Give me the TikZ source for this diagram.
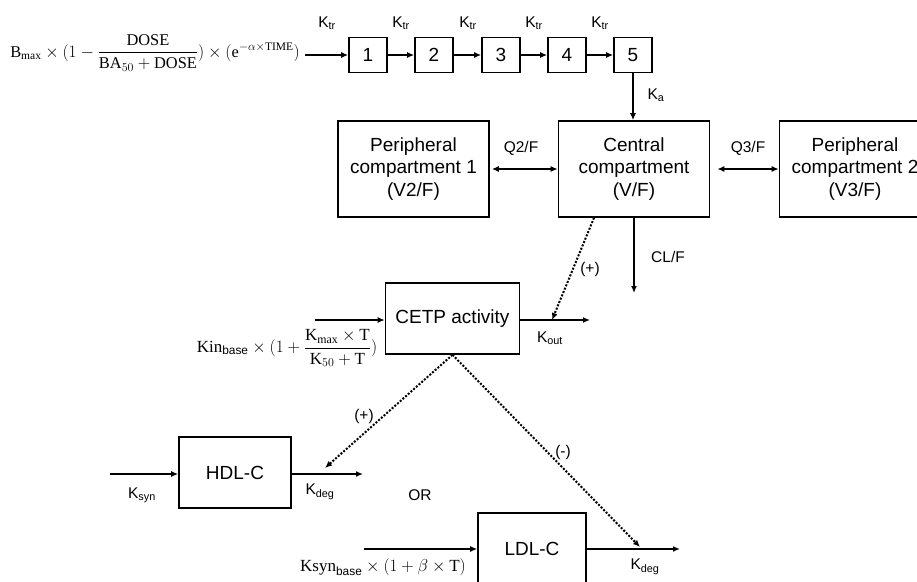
\documentclass[tikz,border=0pt]{standalone}
\usepackage{amsmath}
\usepackage{fontspec}
\setmainfont{Liberation Serif}
\newfontfamily\arial{Liberation Sans}
\usetikzlibrary{arrows.meta,positioning,calc}

\begin{document}
\begin{tikzpicture}[x=1pt,y=-1pt,
  box/.style={draw,line width=1.6pt,font=\arial\fontsize{19}{22.5}\selectfont,align=center,inner sep=0pt},
  num/.style={box,minimum width=38pt,minimum height=35pt},
  comp/.style={box,minimum width=151pt,minimum height=96pt},
  pdbox/.style={box,minimum width=134pt,minimum height=71pt},
  lbl/.style={font=\arial\fontsize{15.5}{18}\selectfont,inner sep=0pt},
  eq/.style={font=\fontsize{17}{20}\selectfont,inner sep=0pt},
  arr/.style={-{Latex[length=7pt,width=6pt]},line width=1.6pt},
  biarr/.style={arr,{Latex[length=7pt,width=6pt]}-{Latex[length=7pt,width=6pt]}},
  darr/.style={arr,line width=2pt,dash pattern=on 2pt off 1.6pt},
]
  \clip (0,0) rectangle (917,581);

  % absorption transit chain
  \node[eq,font=\fontsize{16.4}{20}\selectfont] (dose) at (155,53) {$\mathrm{B}_{\mathrm{max}}\times(1-\dfrac{\mathrm{DOSE}}{\mathrm{BA}_{50}+\mathrm{DOSE}})\times(\mathrm{e}^{-\alpha\times\mathrm{TIME}})$};
  \coordinate (in0) at (305,55);
  \foreach \i/\x in {1/368,2/434,3/501,4/567,5/633}
    \node[num] (b\i) at (\x,55) {\i};
  \draw[arr] (in0) -- (b1);
  \foreach \i [count=\j from 2] in {1,...,4}
    \draw[arr] (b\i) -- (b\j);
  \foreach \x [count=\k] in {327,401,468,534,600}
    \node[lbl] (ktr\k) at (\x,23) {K\textsubscript{tr}};

  % PK compartments
  \node[comp] (central) at (634,169) {Central\\compartment\\(V/F)};
  \node[comp] (per1) at (413.5,169) {Peripheral\\compartment 1\\(V2/F)};
  \node[comp] (per2) at (855,169) {Peripheral\\compartment 2\\(V3/F)};
  \draw[arr] (b5.south) -- (b5.south |- central.north);
  \node[lbl] (ka) at (656,95) {K\textsubscript{a}};
  \draw[biarr] ([xshift=2pt]per1.east) -- (central.west);
  \node[lbl] (q2) at (521,148) {Q2/F};
  \draw[biarr] ([xshift=7pt]central.east) -- (per2.west);
  \node[lbl] (q3) at (748,148) {Q3/F};
  \coordinate (clend) at (634,293);
  \draw[arr] (central.south) -- (clend);
  \node[lbl] (cl) at (668,257) {CL/F};

  % CETP activity
  \node[pdbox] (cetp) at (452.5,318.5) {CETP activity};
  \coordinate (cetpin) at (315,320);
  \coordinate (cetpout) at (590,320);
  \coordinate (kouthit) at (552,320);
  \draw[arr] (cetpin) -- (cetpin -| cetp.west);
  \draw[arr] (cetpout -| cetp.east) -- (cetpout);
  \node[eq] (kin) at (287,348) {$\mathrm{Kin}_{\text{\arial base}}\times(1+\dfrac{\mathrm{K}_{\mathrm{max}}\times\mathrm{T}}{\mathrm{K}_{50}+\mathrm{T}})$};
  \node[lbl] (kout) at (550,338) {K\textsubscript{out}};
  \draw[darr] ([xshift=-40pt]central.south) -- (kouthit);
  \node[lbl] (pcetp) at (590,269) {(+)};

  % HDL-C
  \node[pdbox,minimum width=112pt] (hdl) at (235,472.5) {HDL-C};
  \coordinate (hdlin) at (110,474);
  \coordinate (hdlout) at (363,474);
  \coordinate (hdlhit) at (325,468);
  \draw[arr] (hdlin) -- (hdlin -| hdl.west);
  \draw[arr] (hdlout -| hdl.east) -- (hdlout);
  \node[lbl] (ksyn) at (142,495) {K\textsubscript{syn}};
  \node[lbl] (kdeg1) at (320,492) {K\textsubscript{deg}};
  \draw[darr] (cetp.south) -- (hdlhit);
  \node[lbl] (phdl) at (364,416) {(+)};

  \node[lbl] (or) at (420,495) {OR};

  % LDL-C
  \node[pdbox,minimum width=108pt] (ldl) at (532,548.5) {LDL-C};
  \coordinate (ldlin) at (364,549);
  \coordinate (ldlout) at (680,549);
  \coordinate (ldlhit) at (640,547);
  \draw[arr] (ldlin) -- (ldlin -| ldl.west);
  \draw[arr] (ldlout -| ldl.east) -- (ldlout);
  \node[eq] (ksynb) at (383,567) {$\mathrm{Ksyn}_{\text{\arial base}}\times(1+\beta\times\mathrm{T})$};
  \node[lbl] (kdeg2) at (645,567) {K\textsubscript{deg}};
  \draw[darr] (cetp.south) -- (ldlhit);
  \node[lbl] (pldl) at (563,452) {(-)};
\end{tikzpicture}
\end{document}
